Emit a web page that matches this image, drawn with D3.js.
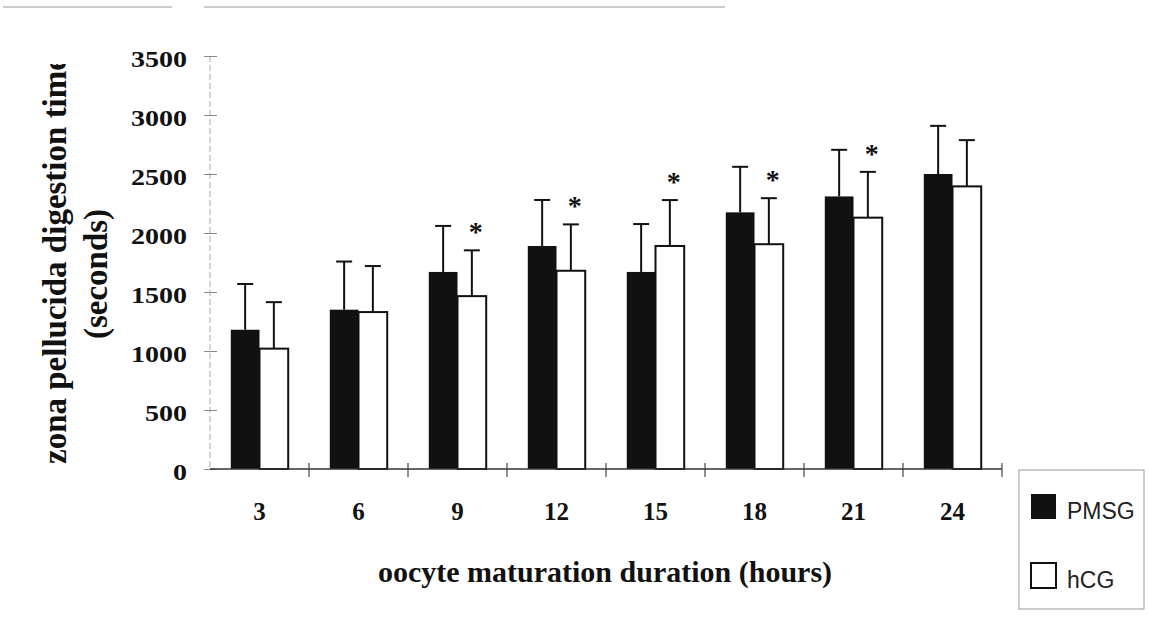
<!DOCTYPE html>
<meta charset="utf-8">
<style>
	body { margin: 0; background: #fff; }
	svg { display: block; }
	.serif { font-family: "Liberation Serif", "Times New Roman", serif; font-weight: bold; fill: #111; }
	.legend text { font-family: "Liberation Sans", Arial, sans-serif; font-size: 23px; fill: #222; }
</style>
<svg id="chart" width="1149" height="635"></svg>
<script src="https://d3js.org/d3.v7.min.js"></script>
<script>
	// oocyte maturation duration (hours)
	var hours = ["3", "6", "9", "12", "15", "18", "21", "24"];
	var series = ["PMSG", "hCG"];
	var pmsg = [1180, 1350, 1670, 1890, 1670, 2175, 2310, 2500];
	var pmsgErr = [388, 408, 390, 390, 406, 386, 395, 408];
	var hcg = [1020, 1330, 1465, 1680, 1890, 1905, 2130, 2395];
	var hcgErr = [394, 390, 388, 393, 389, 390, 388, 392];
	var hcgStar = [false, false, true, true, true, true, true, false];
	var yTicks = [0, 500, 1000, 1500, 2000, 2500, 3000, 3500];

	var svg = d3.select("#chart");
	var margin = {left: 210, right: 147, top: 56, bottom: 166};
	var width = +svg.attr("width"), height = +svg.attr("height");

	var x0 = d3.scaleBand().domain(hours)
		.range([margin.left, width - margin.right])
		.paddingInner(0.42).paddingOuter(0.21);
	var x1 = d3.scaleBand().domain(series).range([0, x0.bandwidth()]);
	var y = d3.scaleLinear().domain([0, 3500]).range([height - margin.bottom, margin.top]);

	var rows = hours.map(function(h, i) {
		return [
			{h: h, s: "PMSG", v: pmsg[i], e: pmsgErr[i], star: false},
			{h: h, s: "hCG", v: hcg[i], e: hcgErr[i], star: hcgStar[i]}
		];
	});
	var flat = [].concat.apply([], rows);

	// scan edge line at the top
	svg.append("path").attr("d", "M3,7H172M204,7H725")
		.attr("stroke", "#bbb").attr("stroke-width", 1.5).attr("fill", "none");

	// y axis
	var yAxis = svg.append("g")
		.attr("transform", "translate(" + margin.left + ",0)")
		.call(d3.axisLeft(y).tickValues(yTicks).tickSize(6).tickPadding(17).tickFormat(d3.format("d")));
	yAxis.select(".domain").attr("stroke", "#aaa").attr("stroke-dasharray", "6,3")
		.attr("d", "M0," + y(3500) + "V" + y(0));
	yAxis.selectAll(".tick line").attr("stroke", "#888").attr("x1", 7);
	yAxis.selectAll(".tick text").attr("class", "serif").style("font-size", "23px")
		.attr("dy", "0.45em")
		.attr("textLength", function(d) { return String(d).length * 14; })
		.attr("lengthAdjust", "spacingAndGlyphs");

	// bars
	svg.append("g").selectAll("rect")
		.data(flat).enter().append("rect")
		.attr("x", function(d) { return x0(d.h) + x1(d.s); })
		.attr("y", function(d) { return y(d.v); })
		.attr("width", x1.bandwidth())
		.attr("height", function(d) { return y(0) - y(d.v); })
		.attr("fill", function(d) { return d.s == "PMSG" ? "#111" : "#fff"; })
		.attr("stroke", "#111")
		.attr("stroke-width", function(d) { return d.s == "PMSG" ? 0 : 2; });

	// error bars (upper only)
	var err = svg.append("g").attr("stroke", "#111").attr("stroke-width", 2)
		.selectAll("g").data(flat).enter().append("g");
	err.append("line")
		.attr("x1", function(d) { return x0(d.h) + x1(d.s) + x1.bandwidth() / 2; })
		.attr("x2", function(d) { return x0(d.h) + x1(d.s) + x1.bandwidth() / 2; })
		.attr("y1", function(d) { return y(d.v); })
		.attr("y2", function(d) { return y(d.v + d.e); });
	err.append("line")
		.attr("x1", function(d) { return x0(d.h) + x1(d.s) + x1.bandwidth() / 2 - 8; })
		.attr("x2", function(d) { return x0(d.h) + x1(d.s) + x1.bandwidth() / 2 + 8; })
		.attr("y1", function(d) { return y(d.v + d.e); })
		.attr("y2", function(d) { return y(d.v + d.e); });

	// significance stars
	svg.append("g").selectAll("text")
		.data(flat.filter(function(d) { return d.star; }))
		.enter().append("text")
		.attr("class", "serif")
		.attr("text-anchor", "middle")
		.style("font-size", "28px")
		.attr("x", function(d) { return x0(d.h) + x1(d.s) + x1.bandwidth() / 2 + 4; })
		.attr("y", function(d) { return y(d.v + d.e) - 9; })
		.text("*");

	// x axis
	var xAxis = svg.append("g")
		.attr("transform", "translate(0," + y(0) + ")")
		.call(d3.axisBottom(x0).tickSize(0).tickPadding(33));
	xAxis.select(".domain").attr("stroke", "#333").attr("stroke-width", 1.5)
		.attr("d", "M" + margin.left + ",0H" + (width - margin.right));
	xAxis.selectAll(".tick text").attr("class", "serif").style("font-size", "25px");
	svg.append("g").attr("stroke", "#444").attr("stroke-width", 1.2)
		.selectAll("line").data(hours).enter().append("line")
		.attr("x1", function(d) { return x0(d) + x0.bandwidth() + x0.step() * x0.paddingInner() / 2; })
		.attr("x2", function(d) { return x0(d) + x0.bandwidth() + x0.step() * x0.paddingInner() / 2; })
		.attr("y1", y(0) - 6).attr("y2", y(0) + 8);

	// axis titles
	svg.append("text").attr("class", "serif")
		.attr("x", 605).attr("y", 582)
		.attr("text-anchor", "middle").style("font-size", "30px")
		.text("oocyte maturation duration (hours)");

	svg.append("clipPath").attr("id", "topcut")
		.append("rect").attr("x", 0).attr("y", 64).attr("width", 200).attr("height", 600);
	var yt = svg.append("g").attr("clip-path", "url(#topcut)");
	yt.append("text").attr("class", "serif")
		.attr("transform", "translate(66,464) rotate(-90)")
		.style("font-size", "33px")
		.text("zona pellucida digestion time");
	yt.append("text").attr("class", "serif")
		.attr("transform", "translate(107,274) rotate(-90)")
		.attr("text-anchor", "middle")
		.style("font-size", "33px")
		.text("(seconds)");

	// legend
	var legend = svg.append("g").attr("class", "legend");
	legend.append("rect").attr("x", 1019).attr("y", 470).attr("width", 125).attr("height", 139)
		.attr("fill", "none").attr("stroke", "#999").attr("stroke-width", 1);
	var item = legend.selectAll(".item").data(series).enter().append("g")
		.attr("transform", function(d, i) { return "translate(1031," + (494 + i * 69) + ")"; });
	item.append("rect").attr("width", 25).attr("height", 25)
		.attr("fill", function(d) { return d == "PMSG" ? "#111" : "#fff"; })
		.attr("stroke", "#111").attr("stroke-width", function(d) { return d == "PMSG" ? 0 : 2; });
	item.append("text").attr("x", 36).attr("y", 25).text(function(d) { return d; });
</script>
